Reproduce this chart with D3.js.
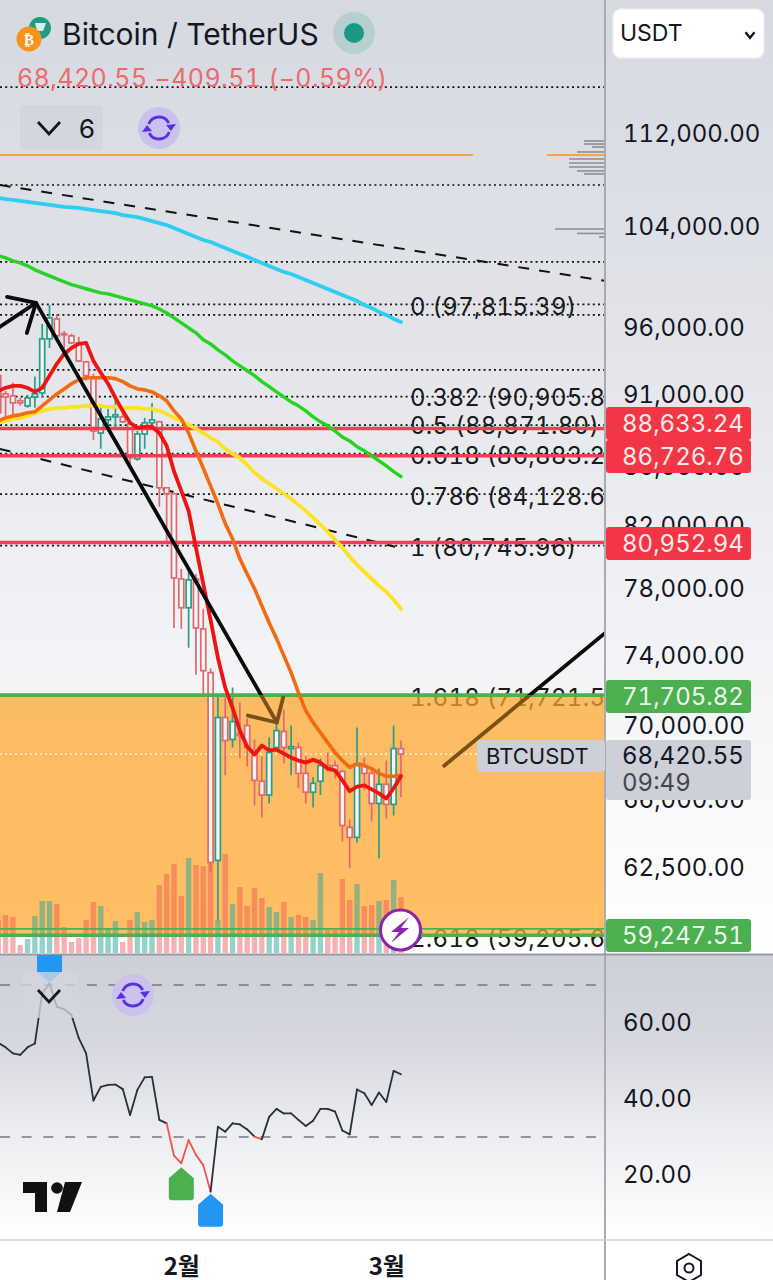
<!DOCTYPE html>
<html>
<head>
<meta charset="utf-8">
<script src="https://cdn.jsdelivr.net/npm/d3@7"></script>
<style>
	body { margin: 0; background: #fff; overflow: hidden; }
	svg { display: block; font-family: Inter, "Noto Sans", sans-serif; font-variant-numeric: tabular-nums; }
	.axis path, .axis line { display: none; }
	.axis text { fill: #131722; font-family: Inter, "Noto Sans", sans-serif; }
</style>
</head>
<body>
<svg id="chart" width="773" height="1280"></svg>
<script>
// days counted from 1 Feb, one candle per day
const days = d3.range(-25, 31);
const opens = [92430,91100,90960,90600,90240,90880,91170,95170,96690,95560,
	95400,94870,93450,92280,88310,89240,89450,89450,88960,86520,
	88240,89030,89100,84550,84150,78640,76860,78640,75580,73000,
	62880,70440,69220,69550,69990,68620,66960,66230,68780,69660,
	68720,68780,67380,66380,66960,67800,67800,67490,64550,64040,
	67750,67380,65790,66800,65740,68720];
const highs = [93670,91310,91920,90810,91030,92360,96310,97770,97080,95780,
	95560,95330,93520,92570,90380,90020,90740,89880,89030,88450,
	89380,90450,89170,84550,84150,79270,79270,78950,76800,73240,
	71680,71570,72140,71280,70380,69220,68290,69330,70380,70890,
	69990,69050,68340,67170,68180,68510,68070,67540,64960,69880,
	68230,67640,67640,68070,69990,69160];
const lows = [89310,89310,89520,90240,90100,90100,90810,94490,95020,94420,
	94790,93450,92060,87830,87210,88450,88610,89030,86170,86380,
	87210,88820,83280,81060,75640,75580,74460,72880,71790,62280,
	59940,67280,68780,68230,67750,65690,65060,65790,68620,67910,
	67280,66590,65790,65580,66230,67490,67120,63830,62480,63780,
	66480,64860,62980,65010,65160,66120];
const closes = [89740,90880,90450,90450,90810,91100,95170,96770,95400,95480,
	94870,93520,92430,88450,89310,89450,89600,89100,86590,88240,
	89030,89240,84550,84150,78700,76860,78580,75640,73110,62780,
	70440,69160,70210,69440,68780,67010,66230,68510,69710,68780,
	68830,67380,66380,66850,67800,67640,67540,64650,64040,67800,
	67380,65790,66800,65740,68720,68420];
const volumes = [33,38,36,8,14,37,52,52,49,26,
	11,15,33,51,47,25,32,11,33,41,
	31,33,68,79,89,57,95,88,87,92,
	33,99,49,66,47,65,55,46,41,51,
	36,38,36,33,80,23,23,74,53,69,
	47,48,52,53,73,56];

const maRed = [91310,91540,91680,91680,91540,91240,91540,92430,93300,94040,
	94490,94790,94870,93520,92640,91840,90810,89880,89030,88680,
	88750,88750,88310,87420,85670,84340,83010,80620,78340,76130,
	73870,72130,70990,69710,68830,68390,68890,68620,68670,68450,
	68230,68070,67960,68120,67960,67640,67540,67010,66430,66680,
	66740,66530,66320,66050,66590,67230];
const maOrange = [89170,89380,89520,89600,89740,89810,90240,90670,91100,91460,
	91840,92130,92280,92280,92280,92280,92210,91990,91680,91460,
	91390,91240,90960,90600,89880,89310,88310,87070,85870,84680,
	83480,82180,81190,79910,78950,78030,76980,75950,75010,73990,
	73000,71850,70830,70160,69600,69050,68510,68070,67700,67910,
	67800,67640,67380,67230,67230,67280];
const maYellow = [89030,89170,89310,89380,89520,89670,89880,90020,90100,90100,
	90170,90170,90240,90240,90240,90170,90170,90100,90100,90100,
	90020,90020,89880,89670,89380,89170,88890,88610,88310,87970,
	87690,87210,86860,86590,86100,85570,85170,84830,84490,84150,
	83810,83410,83010,82570,82110,81650,81120,80620,80040,79530,
	79090,78640,78210,77840,77350,76800];
const maGreen = [101660,101500,101260,101100,100860,100540,100300,100060,99820,99590,
	99360,99200,99040,98880,98720,98640,98480,98320,98160,98010,
	97850,97700,97460,97150,96770,96390,96000,95630,95100,94790,
	94340,93970,93520,93150,92790,92430,91990,91620,91240,90880,
	90520,90240,89880,89450,89100,88820,88450,88030,87760,87350,
	87070,86730,86380,86040,85640,85310];
const maBlue = [106450,106360,106280,106200,106110,106030,105940,105860,105780,105690,
	105650,105610,105510,105420,105340,105260,105180,105010,104930,104840,
	104680,104510,104340,104180,103930,103690,103440,103200,102950,102790,
	102550,102300,102060,101820,101580,101330,101090,100840,100610,100370,
	100210,99970,99730,99490,99260,99020,98790,98550,98320,98090,
	97770,97540,97230,97000,96690,96460];
const rsi = [54.8,53.6,52.0,51.6,53.6,54.6,67.8,70.4,64.3,63.6,
	62.1,56.0,52.0,39.6,43.2,43.7,43.8,42.6,35.8,42.4,
	45.7,45.8,34.5,33.6,25.1,23.1,29.2,25.3,22.6,15.6,
	32.7,31.4,33.6,33.3,32.0,30.1,29.4,35.3,37.4,36.2,
	36.2,34.5,32.9,34.3,37.4,37.4,36.7,31.7,30.7,42.5,
	41.5,38.4,41.7,39.2,47.4,46.5];

const priceTicks = [112000,104000,96000,91000,86000,82000,78000,74000,70000,66000,62500];
const rsiTicks = [60,40,20];
const rsiBands = [70,30];
const monthDays = [0,28];
const monthLabels = ["2월","3월"];

const fibRatios = ["0","0.382","0.5","0.618","0.786","1","1.618","2.618"];
const fibPrices = [97815.39,90905.84,88871.80,86883.28,84128.68,80745.96,71721.57,59205.69];
const extraDotted = [116260,107550,101170,97000,92860];
const redLevels = [88633.24,86726.76,80952.94];
const greenLevels = [71705.82,59247.51];
const thinGreen = 59550;
const orangeLevel = 110150;
const lastPrice = 68420.55;

const vpPrices = [111380,111110,110850,110410,109800,109450,109100,108760,108500,103860,103490,103200];
const vpSizes = [21,21,13,28,36,36,36,28,21,50,28,6];

// drawings, as [day, price]
const arrowUp = [[-25,96010],[-19.85,97930]];
const arrowUpHead = [[-23.8,98400],[-19.85,97930],[-21.1,95620]];
const arrowDown = [[-19.85,97930],[13.05,70160]];
const arrowDownHead = [[9.1,70550],[13.05,70160],[13.9,71560]];
const riseLine = [[35.9,67790],[57.9,75340]];
const dashA = [[-24.8,107550],[57.9,99660]];
const dashB = [[-24.8,87200],[29.2,80680]];

const width = 773, height = 1280, chartRight = 605, mainBottom = 954, paneBottom = 1240;
const svg = d3.select("#chart");
const fmt = d3.format(",.2f");

const x = d3.scaleLinear().domain([0, 28]).range([181.3, 386.3]);
const y = d3.scaleLog().domain([112000, 62500]).range([134, 868]);
const yVol = d3.scaleLinear().domain([0, 100]).range([953, 853]);
const yRsi = d3.scaleLinear().domain([60, 20]).range([1023, 1175]);
const vpLen = d3.scaleLinear().domain([0, 50]).range([0, 50]);

const defs = svg.append("defs");
function gradient(id, stops) {
	let g = defs.append("linearGradient").attr("id", id).attr("x1", 0).attr("y1", 0).attr("x2", 0).attr("y2", 1);
	stops.forEach(function(s) {
		g.append("stop").attr("offset", s[0]).attr("stop-color", s[1]);
	});
}
gradient("bgMain", [[0, "#d6d9e1"], [0.3, "#e0e2e8"], [0.62, "#f0f1f4"], [1, "#ffffff"]]);
gradient("bgPane", [[0, "#cdcfd9"], [0.3, "#d6d7df"], [0.62, "#ecedf0"], [1, "#ffffff"]]);
function clip(id, cx, cy, w, h) {
	defs.append("clipPath").attr("id", id).append("rect")
		.attr("x", cx).attr("y", cy).attr("width", w).attr("height", h);
}
clip("clipMain", 0, 0, chartRight, mainBottom);
clip("clipPane", 0, mainBottom + 1, chartRight, paneBottom - mainBottom - 1);
clip("clipAboveZone", 0, 0, chartRight, y(greenLevels[0]));
clip("clipInZone", 0, y(greenLevels[0]), chartRight, y(greenLevels[1]) - y(greenLevels[0]));

svg.append("rect").attr("width", width).attr("height", mainBottom).attr("fill", "url(#bgMain)");
svg.append("rect").attr("y", mainBottom).attr("width", width).attr("height", paneBottom - mainBottom).attr("fill", "url(#bgPane)");
svg.append("rect").attr("y", paneBottom).attr("width", width).attr("height", height - paneBottom).attr("fill", "#fff");

const main = svg.append("g").attr("clip-path", "url(#clipMain)");

function hline(g, price, color, w, dash) {
	g.append("line")
		.attr("x1", 0).attr("x2", chartRight)
		.attr("y1", y(price)).attr("y2", y(price))
		.attr("stroke", color).attr("stroke-width", w)
		.attr("stroke-dasharray", dash || null);
}

// dotted levels and fib labels
extraDotted.concat(fibPrices.slice(0, 6)).forEach(function(p) {
	hline(main, p, "#111", 1.7, "2 3.2");
});
const fibOffsets = [2, 1, 0, 2, 2, 2, 3, 2];
main.selectAll("text.fib").data(fibPrices).join("text")
	.attr("class", "fib")
	.attr("x", 410)
	.attr("y", (d, i) => y(d) + fibOffsets[i])
	.attr("dominant-baseline", "central")
	.attr("font-size", 24)
	.attr("letter-spacing", 0.3)
	.attr("fill", "#1a1a1a")
	.text((d, i) => fibRatios[i] + " (" + fmt(d) + ")");

// dashed trend lines
const drawLine = d3.line().x(d => x(d[0])).y(d => y(d[1]));
[dashA, dashB].forEach(function(l) {
	main.append("path").attr("d", drawLine(l))
		.attr("fill", "none").attr("stroke", "#111").attr("stroke-width", 2).attr("stroke-dasharray", "11 10");
});

// visible range volume
main.selectAll("line.vp").data(vpPrices).join("line")
	.attr("class", "vp")
	.attr("x1", chartRight).attr("x2", (d, i) => chartRight - vpLen(vpSizes[i]))
	.attr("y1", d => y(d)).attr("y2", d => y(d))
	.attr("stroke", "#8b8d93").attr("stroke-width", 1.6);
main.append("line")
	.attr("x1", 0).attr("x2", 473).attr("y1", y(orangeLevel)).attr("y2", y(orangeLevel))
	.attr("stroke", "#f3a645").attr("stroke-width", 2);
main.append("line")
	.attr("x1", 547).attr("x2", chartRight).attr("y1", y(orangeLevel)).attr("y2", y(orangeLevel))
	.attr("stroke", "#f3a645").attr("stroke-width", 2);

// support zone
main.append("rect")
	.attr("x", 0).attr("width", chartRight)
	.attr("y", y(greenLevels[0])).attr("height", y(greenLevels[1]) - y(greenLevels[0]))
	.attr("fill", "rgb(255,165,40)").attr("opacity", 0.72);

// volume
main.selectAll("rect.vol").data(days).join("rect")
	.attr("class", "vol")
	.attr("x", d => x(d) - 2.7).attr("width", 5.4)
	.attr("y", (d, i) => yVol(volumes[i]))
	.attr("height", (d, i) => yVol(0) - yVol(volumes[i]))
	.attr("fill", (d, i) => closes[i] >= opens[i] ? "#26a69a" : "#ef5350")
	.attr("opacity", (d, i) => closes[i] >= opens[i] ? 0.5 : 0.45);

// last price dots
hline(main, lastPrice, "#ffffff", 1.2, "2 3");

// candles
const upColor = "#2a9d8a", downColor = "#e0696f";
const candles = main.selectAll("g.candle").data(days).join("g").attr("class", "candle");
candles.append("line")
	.attr("x1", d => x(d)).attr("x2", d => x(d))
	.attr("y1", (d, i) => y(highs[i])).attr("y2", (d, i) => y(lows[i]))
	.attr("stroke", (d, i) => closes[i] >= opens[i] ? upColor : downColor)
	.attr("stroke-width", 1.7);
candles.append("rect")
	.attr("x", d => x(d) - 2.5).attr("width", 5)
	.attr("y", (d, i) => y(Math.max(opens[i], closes[i])))
	.attr("height", (d, i) => Math.max(1, Math.abs(y(opens[i]) - y(closes[i]))))
	.attr("fill", "#f5f3f3")
	.attr("stroke", (d, i) => closes[i] >= opens[i] ? upColor : downColor)
	.attr("stroke-width", 1.7);

// horizontal levels
redLevels.forEach(p => hline(main, p, "#ef3f52", 3.6));
hline(main, thinGreen, "#4caf50", 1.8);
greenLevels.forEach(p => hline(main, p, "#4caf50", 3.6));

// moving averages
const maLine = d3.line().x((d, i) => x(days[i])).y(d => y(d));
[[maBlue, "#2ecdf2", 3.8], [maGreen, "#24d420", 3.4], [maYellow, "#fde224", 3.8], [maOrange, "#f26b0f", 3.6], [maRed, "#ee1414", 3.8]].forEach(function(m) {
	main.append("path").attr("d", maLine(m[0]))
		.attr("fill", "none").attr("stroke", m[1]).attr("stroke-width", m[2])
		.attr("stroke-linejoin", "round").attr("stroke-linecap", "round");
});

// hand drawn arrows, darkened to brown inside the zone
function drawings(clipId, color) {
	let g = main.append("g").attr("clip-path", "url(#" + clipId + ")");
	[arrowUp, arrowUpHead, arrowDown, arrowDownHead, riseLine].forEach(function(l) {
		g.append("path").attr("d", drawLine(l))
			.attr("fill", "none").attr("stroke", color).attr("stroke-width", 3.8)
			.attr("stroke-linecap", "round").attr("stroke-linejoin", "round");
	});
}
drawings("clipAboveZone", "#0a0a0a");
drawings("clipInZone", "#7a5018");

// separators
svg.append("line").attr("x1", chartRight).attr("x2", chartRight).attr("y1", 0).attr("y2", height)
	.attr("stroke", "#a9abb0").attr("stroke-width", 2);
svg.append("line").attr("x1", 0).attr("x2", width).attr("y1", mainBottom + 0.5).attr("y2", mainBottom + 0.5)
	.attr("stroke", "#97999f").attr("stroke-width", 2);
svg.append("line").attr("x1", 0).attr("x2", width).attr("y1", paneBottom).attr("y2", paneBottom)
	.attr("stroke", "#cfd0d4").attr("stroke-width", 1.5);

// price axis
svg.append("g").attr("class", "axis")
	.attr("transform", "translate(" + 623 + ",0)")
	.call(d3.axisRight(y).tickValues(priceTicks).tickFormat(fmt).tickSize(0).tickPadding(0))
	.selectAll("text").attr("font-size", 24);

// price tags on the axis
function tag(tx, ty, w, h, color) {
	svg.append("rect").attr("x", tx).attr("y", ty).attr("width", w).attr("height", h).attr("rx", 3).attr("fill", color);
}
function tagText(tx, ty, s, color, size) {
	svg.append("text").attr("x", tx).attr("y", ty)
		.attr("dominant-baseline", "central").attr("font-size", size || 24)
		.attr("fill", color).text(s);
}
const redTagY = [424, 457, 544];
redLevels.forEach(function(p, i) {
	tag(606, redTagY[i] - 17, 145, 33, "#f23645");
	tagText(622, redTagY[i] - 1, fmt(p), "#fde9ea");
});
const greenTagY = [697, 936];
greenLevels.forEach(function(p, i) {
	tag(606, greenTagY[i] - 17, 145, 33, "#4caf50");
	tagText(622, greenTagY[i] - 1, fmt(p), "#eaf6ea");
});
tag(477, 740, 128, 32, "#cdd0d9");
tagText(486, 756, "BTCUSDT", "#131722", 22);
tag(606, 740, 145, 60, "#cdd0d9");
tagText(622, 755, fmt(lastPrice), "#131722");
tagText(622, 782, "09:49", "#434651");

// rsi pane
const pane = svg.append("g").attr("clip-path", "url(#clipPane)");
rsiBands.forEach(function(v) {
	pane.append("line").attr("x1", 0).attr("x2", chartRight).attr("y1", yRsi(v)).attr("y2", yRsi(v))
		.attr("stroke", "#77787f").attr("stroke-width", 1.5).attr("stroke-dasharray", "10 11.7");
});
days.slice(1).forEach(function(d, i) {
	pane.append("line")
		.attr("x1", x(days[i])).attr("y1", yRsi(rsi[i]))
		.attr("x2", x(d)).attr("y2", yRsi(rsi[i + 1]))
		.attr("stroke", rsi[i + 1] < 30 ? "#ef5350" : "#2a2e39")
		.attr("stroke-width", 1.8).attr("stroke-linecap", "round");
});

// signal flags tied to rsi points
function flag(day, top, color, down) {
	let cx = x(day), s = down ? -1 : 1;
	pane.append("path")
		.attr("d", "M" + cx + "," + top + "L" + (cx + 12.5) + "," + (top + s * 11) + "L" + (cx + 12.5) + "," + (top + s * 30)
			+ "Q" + (cx + 12.5) + "," + (top + s * 33) + " " + (cx + 9.5) + "," + (top + s * 33)
			+ "L" + (cx - 9.5) + "," + (top + s * 33)
			+ "Q" + (cx - 12.5) + "," + (top + s * 33) + " " + (cx - 12.5) + "," + (top + s * 30)
			+ "L" + (cx - 12.5) + "," + (top + s * 11) + "Z")
		.attr("fill", color);
}
flag(0, yRsi(rsi[days.indexOf(0)]) + 4, "#4caf50", false);
flag(4, yRsi(rsi[days.indexOf(4)]) + 2, "#2196f3", false);
flag(-18, yRsi(rsi[days.indexOf(-18)]) - 1, "#2196f3", true);

svg.append("g").attr("class", "axis")
	.attr("transform", "translate(" + 623 + ",0)")
	.call(d3.axisRight(yRsi).tickValues(rsiTicks).tickFormat(d3.format(".2f")).tickSize(0).tickPadding(0))
	.selectAll("text").attr("font-size", 24);

// time axis
svg.append("g").attr("class", "axis")
	.attr("transform", "translate(0,1258)")
	.call(d3.axisBottom(x).tickValues(monthDays).tickFormat((d, i) => monthLabels[i]).tickSize(0).tickPadding(0))
	.selectAll("text")
	.attr("font-size", 24).attr("font-weight", 700)
	.style("font-family", '"Noto Sans CJK KR", sans-serif');

// header and controls
function chevron(g, cx, cy, w, h, sw) {
	g.append("path")
		.attr("d", "M" + (cx - w) + "," + (cy - h) + "L" + cx + "," + (cy + h) + "L" + (cx + w) + "," + (cy - h))
		.attr("fill", "none").attr("stroke", "#131722").attr("stroke-width", sw);
}
function refresh(cx, cy) {
	svg.append("circle").attr("cx", cx).attr("cy", cy).attr("r", 21).attr("fill", "#c9c2ec");
	let arc = d3.arc().innerRadius(11).outerRadius(11);
	[[-1.2, 1.1], [1.94, 4.24]].forEach(function(a) {
		svg.append("path").attr("transform", "translate(" + cx + "," + cy + ")")
			.attr("d", arc({ startAngle: a[0], endAngle: a[1] }))
			.attr("fill", "none").attr("stroke", "#5a2fe0").attr("stroke-width", 2.8);
	});
	svg.append("path").attr("d", "M" + (cx + 7) + "," + (cy - 3) + "l10,-1 l-5,7 Z").attr("fill", "#5a2fe0");
	svg.append("path").attr("d", "M" + (cx - 7) + "," + (cy + 3) + "l-10,1 l5,-7 Z").attr("fill", "#5a2fe0");
}

svg.append("circle").attr("cx", 40).attr("cy", 28).attr("r", 11).attr("fill", "#1f9d84");
svg.append("path").attr("d", "M35,23h11l-3,8h-6z").attr("fill", "#d5efe9");
svg.append("circle").attr("cx", 29).attr("cy", 39).attr("r", 12.5).attr("fill", "#f7931a");
svg.append("text").attr("x", 29).attr("y", 40).attr("text-anchor", "middle").attr("dominant-baseline", "central")
	.attr("font-size", 15).attr("font-weight", 700).attr("fill", "#fff").style("font-family", '"DejaVu Sans"').text("₿");
svg.append("text").attr("x", 62).attr("y", 34).attr("dominant-baseline", "central")
	.attr("font-size", 30).attr("fill", "#131722").style("font-variant-numeric", "normal").text("Bitcoin / TetherUS");
svg.append("circle").attr("cx", 354).attr("cy", 33).attr("r", 21).attr("fill", "#1a9a85").attr("opacity", 0.17);
svg.append("circle").attr("cx", 354).attr("cy", 33).attr("r", 10).attr("fill", "#1a9a85");
svg.append("text").attr("x", 17).attr("y", 78).attr("dominant-baseline", "central")
	.attr("font-size", 25).attr("letter-spacing", 0.4).attr("fill", "#ec6a6c").text("68,420.55 −409.51 (−0.59%)");

svg.append("rect").attr("x", 20).attr("y", 105).attr("width", 83).attr("height", 45).attr("rx", 3)
	.attr("fill", "#c8ccd6").attr("opacity", 0.4);
chevron(svg, 49, 128, 11, 6, 2.8);
svg.append("text").attr("x", 87).attr("y", 128).attr("text-anchor", "middle").attr("dominant-baseline", "central")
	.attr("font-size", 26).attr("fill", "#131722").text("6");
refresh(159, 128);

svg.append("rect").attr("x", 22).attr("y", 972).attr("width", 56).attr("height", 46).attr("rx", 3)
	.attr("fill", "#d3d6de").attr("opacity", 0.78);
chevron(svg, 49, 996, 11, 6, 2.8);
refresh(133, 995);

svg.append("rect").attr("x", 613).attr("y", 9).attr("width", 151).attr("height", 49).attr("rx", 8)
	.attr("fill", "#fff").attr("stroke", "#eceef2").attr("stroke-width", 1.5);
svg.append("text").attr("x", 620).attr("y", 33).attr("dominant-baseline", "central")
	.attr("font-size", 23).attr("fill", "#131722").text("USDT");
chevron(svg, 750, 35, 4.5, 2.8, 2.4);

// lightning badge
svg.append("circle").attr("cx", 400.5).attr("cy", 930).attr("r", 20).attr("fill", "#fff")
	.attr("stroke", "#8e24aa").attr("stroke-width", 3);
svg.append("path").attr("d", "M409,917L391,932h8l-8,11l18,-15h-8z").attr("fill", "#8e24aa");

// tradingview logo
svg.append("path").attr("d", "M23,1182h24v30h-12v-19h-12z").attr("fill", "#111");
svg.append("circle").attr("cx", 57).attr("cy", 1188).attr("r", 5.8).attr("fill", "#111");
svg.append("path").attr("d", "M65,1182h17l-12,30h-13z").attr("fill", "#111");

// settings hexagon
svg.append("path").attr("d", "M689,1254l12,7v14l-12,7l-12,-7v-14z").attr("fill", "none")
	.attr("stroke", "#131722").attr("stroke-width", 2);
svg.append("circle").attr("cx", 689).attr("cy", 1268).attr("r", 4.5).attr("fill", "none")
	.attr("stroke", "#131722").attr("stroke-width", 2);
</script>
</body>
</html>
